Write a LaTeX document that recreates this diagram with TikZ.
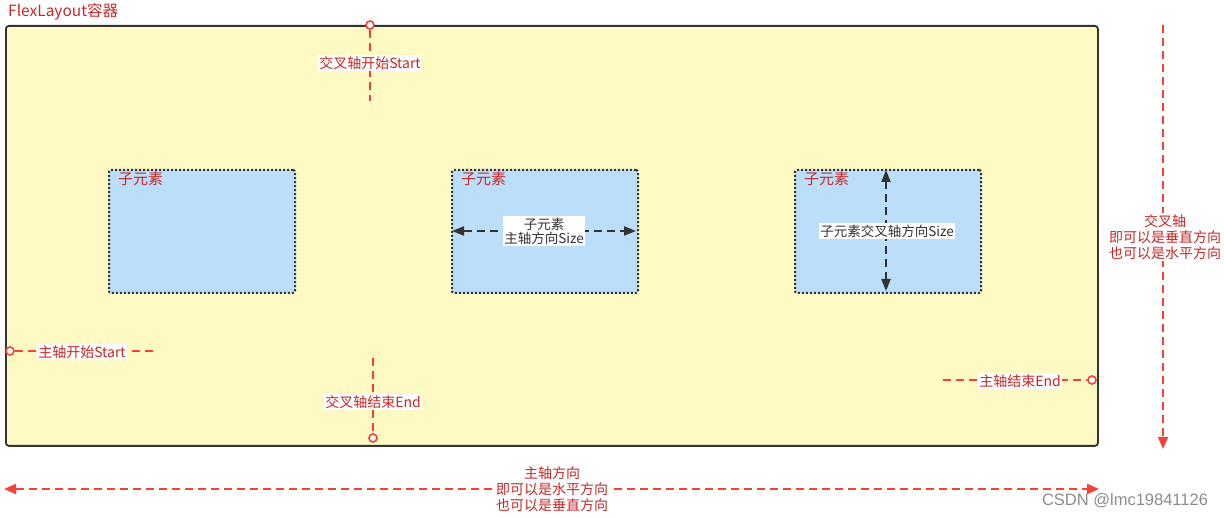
\documentclass[tikz,border=0pt]{standalone}
\usepackage{fontspec}
\setmainfont{Noto Sans CJK SC}
\newfontfamily\wmfont{Liberation Sans}
\usetikzlibrary{arrows.meta}
\definecolor{cyellow}{HTML}{FFF9C4}
\definecolor{cblue}{HTML}{BBDEFB}
\definecolor{cred}{HTML}{F44336}
\definecolor{ctext}{HTML}{C62828}
\definecolor{cdark}{HTML}{333333}
\begin{document}
\begin{tikzpicture}[x=1pt,y=-1pt,
  container/.style={draw=cdark,line width=1.8pt,fill=cyellow,rounded corners=3pt},
  child/.style={draw=cdark,line width=2pt,fill=cblue,dash pattern=on 2pt off 2pt,rounded corners=2pt},
  reddash/.style={draw=cred,line width=2pt,dash pattern=on 8pt off 5pt},
  darkdash/.style={draw=cdark,line width=2pt,dash pattern=on 8pt off 5pt},
  endmark/.style={circle,draw=cred,fill=white,line width=1.6pt,minimum size=8pt,inner sep=0pt},
  redlbl/.style={fill=white,text=ctext,font=\fontsize{14}{18}\selectfont,inner sep=1.5pt,align=center},
  darklbl/.style={fill=white,text=cdark,font=\fontsize{13.5}{17}\selectfont,inner sep=1.5pt,align=center},
  childtitle/.style={text=ctext,font=\fontsize{15}{17}\selectfont,anchor=west,inner sep=0pt},
  redtip/.style={-{Triangle[length=12pt,width=10pt]}},
  darktip/.style={{Triangle[length=12pt,width=9pt]}-{Triangle[length=12pt,width=9pt]}}
]
\useasboundingbox (0,0) rectangle (1224,518);

% container
\node[container,minimum width=1092pt,minimum height=420pt,anchor=north west,inner sep=0pt] (box) at (5,25) {};
\node[anchor=west,text=ctext,font=\fontsize{15.5}{18}\selectfont,inner sep=0pt] (title) at (8,12) {FlexLayout容器};

% children
\node[child,minimum width=186pt,minimum height=123pt,anchor=north west,inner sep=0pt] (c1) at (108,169) {};
\node[child,minimum width=186pt,minimum height=123pt,anchor=north west,inner sep=0pt] (c2) at (451,169) {};
\node[child,minimum width=186pt,minimum height=123pt,anchor=north west,inner sep=0pt] (c3) at (794,169) {};
\node[childtitle] (t1) at (118,179) {子元素};
\node[childtitle] (t2) at (461,179) {子元素};
\node[childtitle] (t3) at (804,179) {子元素};

% child 2 main-axis size
\coordinate (c2l) at (452,231);
\coordinate (c2r) at (636,231);
\draw[darkdash,darktip] (c2l) -- (c2r);
\node[darklbl] (s2) at (544,231) {子元素\\[-3pt]主轴方向Size};

% child 3 cross-axis size
\coordinate (c3t) at (886,170);
\coordinate (c3b) at (886,291);
\draw[darkdash,darktip] (c3t) -- (c3b);
\node[darklbl] (s3) at (887,231) {子元素交叉轴方向Size};

% cross start
\node[endmark] (csm) at (370,25) {};
\coordinate (cse) at (370,101);
\draw[reddash] (csm) -- (cse);
\node[redlbl] (csl) at (370,63) {交叉轴开始Start};

% cross end
\node[endmark] (cem) at (373,438) {};
\coordinate (ces) at (373,358);
\draw[reddash] (ces) -- (cem);
\node[redlbl] (cel) at (373,402) {交叉轴结束End};

% main start
\node[endmark] (msm) at (10,351) {};
\coordinate (mse) at (156,351);
\draw[reddash] (msm) -- (mse);
\node[redlbl] (msl) at (82,352) {主轴开始Start};

% main end
\node[endmark] (mem) at (1092,380) {};
\coordinate (mes) at (943,380);
\draw[reddash] (mes) -- (mem);
\node[redlbl] (mel) at (1020,381) {主轴结束End};

% cross axis arrow (right)
\coordinate (rat) at (1163,25);
\coordinate (rab) at (1163,449);
\draw[reddash,redtip] (rat) -- (rab);
\node[redlbl] (ral) at (1165,237) {交叉轴\\[-2pt]即可以是垂直方向\\[-2pt]也可以是水平方向};

% main axis arrow (bottom)
\coordinate (bal) at (4,489);
\coordinate (bar) at (1099,489);
\draw[reddash,{Triangle[length=12pt,width=10pt]}-{Triangle[length=12pt,width=10pt]}] (bal) -- (bar);
\node[redlbl] (bl) at (552,489) {主轴方向\\[-2pt]即可以是水平方向\\[-2pt]也可以是垂直方向};

% watermark
\node[text=black!45,font=\wmfont\fontsize{16.5}{18}\selectfont,inner sep=0pt] (wm) at (1125,501) {CSDN @lmc19841126};
\end{tikzpicture}
\end{document}
